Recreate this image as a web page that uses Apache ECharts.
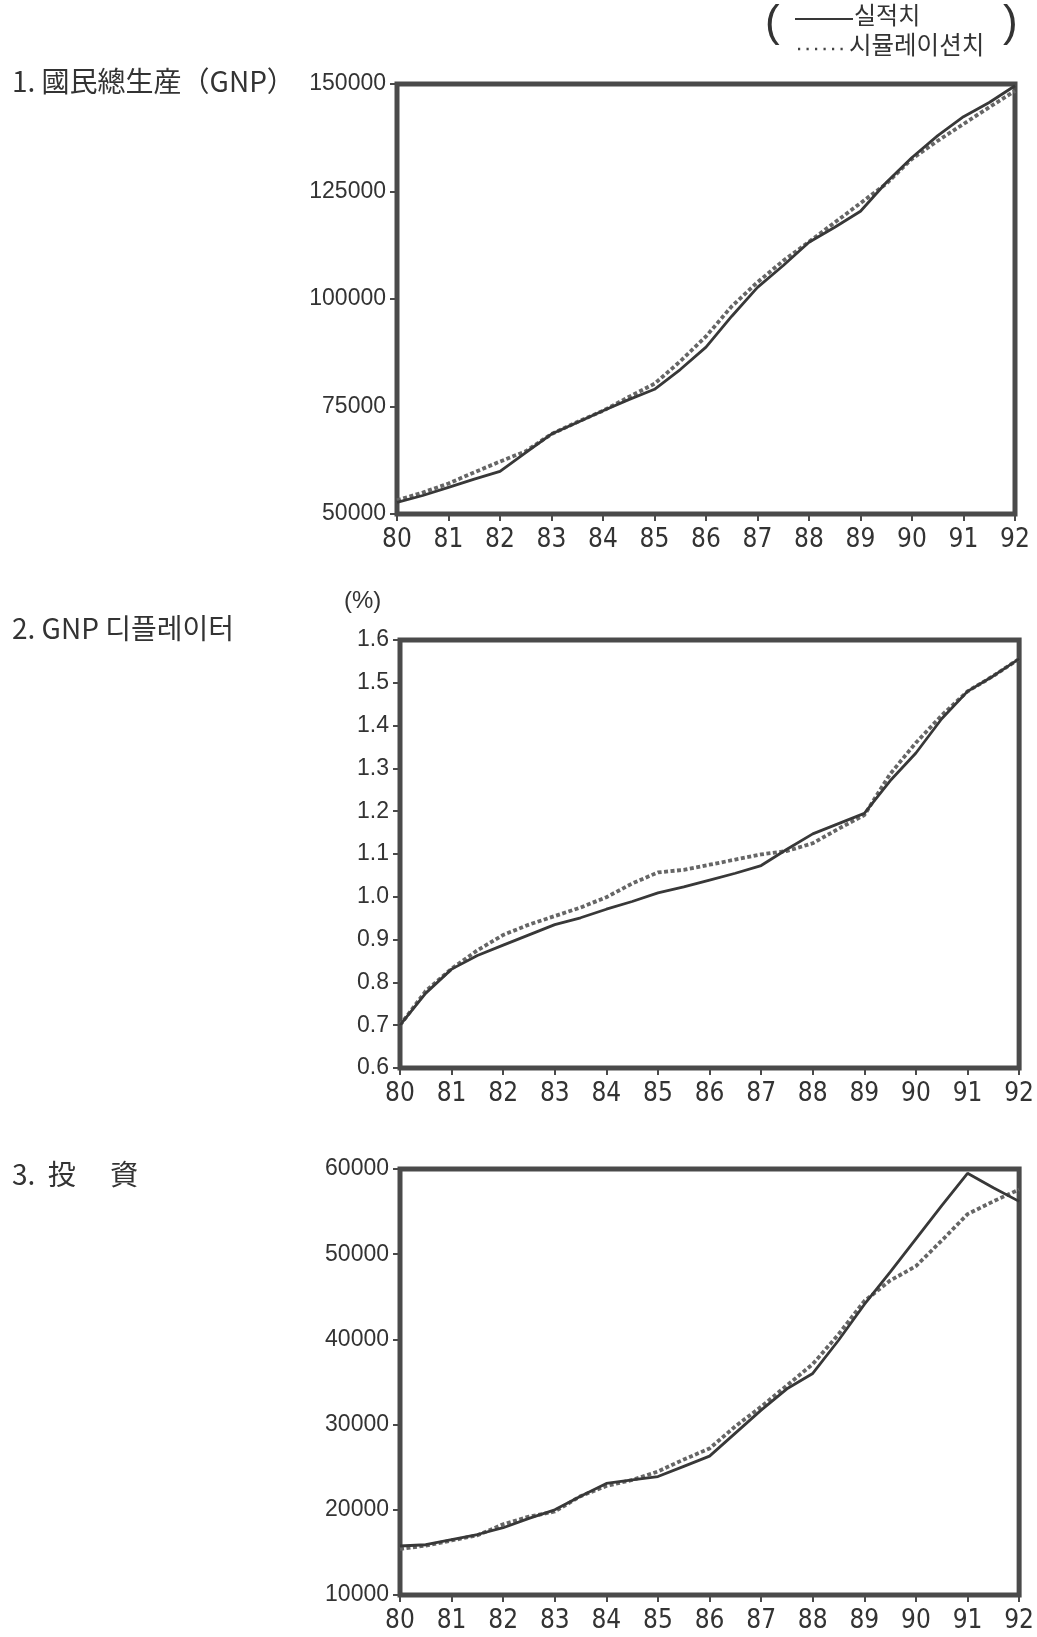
<!DOCTYPE html>
<html>
<head>
<meta charset="utf-8">
<script src="https://cdn.jsdelivr.net/npm/echarts@6/dist/echarts.min.js"></script>
<style>
html,body{margin:0;padding:0;background:#fff;}
#chart{width:1037px;height:1637px;}
</style>
</head>
<body>
<div id="chart"></div>
<script>
// ---- data ----
var periods = [80,80.5,81,81.5,82,82.5,83,83.5,84,84.5,85,85.5,86,86.5,87,87.5,88,88.5,89,89.5,90,90.5,91,91.5,92];
var yearTicks = [80,81,82,83,84,85,86,87,88,89,90,91,92];

var gnpActual = [52700,54300,56200,58100,59900,64300,68600,71300,74000,76600,79000,83600,88800,96000,102700,107800,113200,116700,120400,127100,132900,138000,142400,145700,149600];
var gnpSim    = [53200,55000,57100,59700,62200,64600,68600,71400,74000,77200,80300,85500,91300,98300,103900,108900,113300,117800,122300,126800,132600,136800,140700,144600,148400];

var defActual = [0.700,0.775,0.831,0.863,0.887,0.911,0.935,0.951,0.971,0.989,1.009,1.023,1.039,1.055,1.073,1.111,1.147,1.171,1.195,1.271,1.336,1.416,1.480,1.516,1.556];
var defSim    = [0.700,0.780,0.832,0.875,0.911,0.935,0.955,0.975,0.999,1.031,1.057,1.063,1.075,1.087,1.099,1.107,1.125,1.159,1.191,1.287,1.360,1.424,1.480,1.516,1.556];

var invActual = [15750,15900,16500,17100,17900,19000,20000,21600,23100,23500,23900,25100,26300,29000,31700,34200,36000,39900,44100,47900,51800,55700,59500,57800,56200];
var invSim    = [15400,15800,16400,17000,18300,19200,19800,21600,22800,23500,24500,25900,27200,29800,32100,34600,37100,40600,44500,46900,48600,51600,54700,56200,57600];

var gnpTicks = [50000,150000,25000];
var defTicks = [0.6,1.6,0.1];
var invTicks = [10000,60000,10000];

var titles = ['1. 國民總生産（GNP）','2. GNP 디플레이터','3.  投　 資'];
var legendNames = ['실적치','시뮬레이션치'];

// ---- styling ----
var INK = '#383838';
var FRAME = '#4a4a4a';
var SIM = '#666666';
var numFont = "'Liberation Sans', Arial, sans-serif";
var xFont = "'Liberation Sans Narrow', 'DejaVu Sans Condensed', 'Liberation Sans', sans-serif";
var cjkFont = "'Noto Sans CJK KR', 'Noto Sans CJK JP', sans-serif";

function pairs(ys){ return periods.map(function(p,i){ return [p, ys[i]]; }); }

var grids = [
  {left:397, top:84, width:618, height:430},
  {left:400, top:640, width:620, height:428},
  {left:400, top:1169, width:624, height:426}
];
var yt = [gnpTicks, defTicks, invTicks];

var option = {
  backgroundColor:'#ffffff',
  animation:false,
  grid: grids.map(function(g){
    return {left:g.left, top:g.top, width:g.width, height:g.height, show:true,
            borderColor:FRAME, borderWidth:5, backgroundColor:'transparent', containLabel:false};
  }),
  xAxis: grids.map(function(g,i){
    return {
      type:'value', gridIndex:i, min:yearTicks[0], max:yearTicks[yearTicks.length-1], interval:1,
      axisLine:{show:false},
      axisTick:{show:true, inside:false, length:7, lineStyle:{color:FRAME, width:2}},
      splitLine:{show:false},
      axisLabel:{margin:13, fontSize:26, color:'#333', fontFamily:xFont,
                 formatter:function(v){ return String(v); }}
    };
  }),
  yAxis: grids.map(function(g,i){
    var t = yt[i];
    return {
      type:'value', gridIndex:i, min:t[0], max:t[1], interval:t[2],
      axisLine:{show:false},
      axisTick:{show:true, inside:false, length:7, lineStyle:{color:FRAME, width:2}},
      splitLine:{show:false},
      axisLabel:{margin:11, fontSize:23, color:'#333', fontFamily:numFont,
                 formatter: i===1 ? function(v){ return v.toFixed(1); } : function(v){ return String(v); }}
    };
  }),
  series: [],
  graphic: []
};

var sets = [[gnpActual,gnpSim],[defActual,defSim],[invActual,invSim]];
sets.forEach(function(s,i){
  option.series.push({
    name:legendNames[1], type:'line', xAxisIndex:i, yAxisIndex:i, data:pairs(s[1]),
    showSymbol:false, symbol:'none', smooth:false,
    lineStyle:{color:SIM, width:3.8, type:[4,2.5]}, z:2
  });
  option.series.push({
    name:legendNames[0], type:'line', xAxisIndex:i, yAxisIndex:i, data:pairs(s[0]),
    showSymbol:false, symbol:'none', smooth:false,
    lineStyle:{color:INK, width:2.8}, z:3
  });
});

// titles
var titleY = [84, 631, 1177];
titles.forEach(function(t,i){
  option.graphic.push({type:'text', left:12, top:titleY[i]-17,
    style:{text:t, font:'28px ' + cjkFont, fill:'#333'}});
});
// (%) unit label
option.graphic.push({type:'text', left:344, top:589,
  style:{text:'(%)', font:'24px ' + numFont, fill:'#333'}});

// legend block
option.graphic.push({type:'text', left:765, top:2, style:{text:'(', font:'44px ' + numFont, fill:'#333'}});
option.graphic.push({type:'text', left:1003, top:2, style:{text:')', font:'44px ' + numFont, fill:'#333'}});
option.graphic.push({type:'line', shape:{x1:795,y1:19,x2:853,y2:19}, style:{stroke:INK, lineWidth:1.8}});
option.graphic.push({type:'text', left:854, top:3, style:{text:legendNames[0], font:'24px ' + cjkFont, fill:'#333'}});
option.graphic.push({type:'line', shape:{x1:798,y1:49,x2:848,y2:49}, style:{stroke:'#444', lineWidth:2.4, lineDash:[2.2,6.3]}});
option.graphic.push({type:'text', left:849, top:32, style:{text:legendNames[1], font:'24.5px ' + cjkFont, fill:'#333'}});

var chart = echarts.init(document.getElementById('chart'), null, {renderer:'canvas'});
chart.setOption(option);
</script>
</body>
</html>
